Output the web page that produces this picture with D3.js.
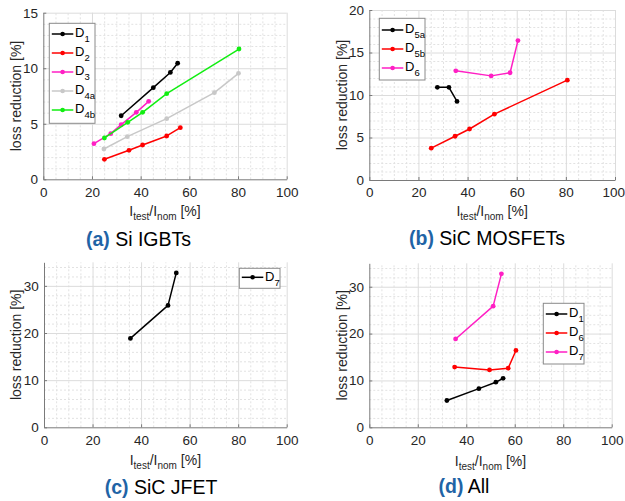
<!DOCTYPE html>
<html><head><meta charset="utf-8">
<script src="https://cdn.jsdelivr.net/npm/d3@7"></script>
<style>
body{margin:0;background:#fff}
svg{display:block}
text{font-family:"Liberation Sans",Arial,Helvetica,sans-serif}
</style>
</head><body>
<svg id="chart" width="625" height="501"></svg>
<script>
// ---------- data ----------
const xTicks = [0, 20, 40, 60, 80, 100];
const yTicksA = [0, 5, 10, 15];
const yTicksB = [0, 5, 10, 15, 20];
const yTicksCD = [0, 10, 20, 30];

const D1  = [[32.0, 5.72], [45.2, 8.25], [52.2, 9.62], [55.2, 10.45]];
const D2  = [[25.1, 1.80], [35.2, 2.61], [40.8, 3.09], [50.7, 3.90], [56.3, 4.65]];
const D3  = [[20.8, 3.21], [27.7, 4.11], [32.0, 4.92], [38.2, 6.03], [43.3, 7.02]];
const D4a = [[24.9, 2.73], [34.5, 3.84], [50.7, 5.46], [70.3, 7.80], [80.2, 9.54]];
const D4b = [[25.1, 3.72], [34.7, 5.13], [40.8, 6.03], [50.7, 7.71], [80.4, 11.73]];
const D5a = [[27.7, 10.9], [32.4, 10.9], [35.7, 9.25]];
const D5b = [[25.2, 3.75], [34.9, 5.15], [40.8, 6.0], [50.9, 7.75], [80.6, 11.75]];
const D6  = [[35.2, 12.85], [49.6, 12.25], [57.3, 12.62], [60.5, 16.4]];
const D7  = [[35.6, 18.85], [51.1, 25.85], [54.5, 32.75]];

const captions = [["(a)", " Si IGBTs"], ["(b)", " SiC MOSFETs"], ["(c)", " SiC JFET"], ["(d)", " All"]];

const C = {black:"#000000", red:"#ff0000", pink:"#ff1fc4", grey:"#c8c8c8", green:"#11ee11"};

// ---------- layout ----------
const panels = [
  {x0:43.3, x1:286.7, yb:179.3, yt:12.7, ymax:15, yTicks:yTicksA, yMinor:1,
   series:[{d:D1,n:"1",c:C.black},{d:D2,n:"2",c:C.red},{d:D3,n:"3",c:C.pink},{d:D4a,n:"4a",c:C.grey},{d:D4b,n:"4b",c:C.green}],
   leg:{x:49.3, y:23.3, w:45.7, h:100, r0:34, step:19},
   ylabX:20.5, xlabY:216, cap:captions[0], capX:138.5, capY:245.5},
  {x0:369.3, x1:615, yb:180, yt:10, ymax:20, yTicks:yTicksB, yMinor:1,
   series:[{d:D5a,n:"5a",c:C.black},{d:D5b,n:"5b",c:C.red},{d:D6,n:"6",c:C.pink}],
   leg:{x:379.3, y:18.3, w:45.7, h:61.7, r0:30, step:19},
   ylabX:347, xlabY:216, cap:captions[1], capX:487, capY:245},
  {x0:44, x1:286.7, yb:427.3, yt:262.3, ymax:35, yTicks:yTicksCD, yMinor:2,
   series:[{d:D7,n:"7",c:C.black}],
   leg:{x:239.3, y:268.3, w:40.7, h:20, r0:277.3, step:19},
   ylabX:20.5, xlabY:465, cap:captions[2], capX:161, capY:494},
  {x0:369.3, x1:611.7, yb:427.3, yt:263.3, ymax:35, yTicks:yTicksCD, yMinor:2,
   series:[{d:D1,n:"1",c:C.black},{d:D6,n:"6",c:C.red},{d:D7,n:"7",c:C.pink}],
   leg:{x:543.3, y:303.3, w:40.7, h:60.7, r0:314, step:19},
   ylabX:347, xlabY:466, cap:captions[3], capX:464, capY:492.5}
];

const svg = d3.select("#chart");
const SVG_W = 625;

function range(a, b, s){ const r=[]; for(let v=a; v<=b+1e-9; v+=s) r.push(+v.toFixed(6)); return r; }

panels.forEach(p => {
  const x = d3.scaleLinear().domain([0,100]).range([p.x0, p.x1]);
  const y = d3.scaleLinear().domain([0,p.ymax]).range([p.yb, p.yt]);
  const g = svg.append("g");
  const H = p.yb - p.yt, W = p.x1 - p.x0;

  const minorX = range(0,100,5).filter(v => !xTicks.includes(v) && v>0);
  const minorY = range(0,p.ymax,p.yMinor).filter(v => !p.yTicks.includes(v) && v>0);

  // minor grid
  g.append("g").attr("transform",`translate(0,${p.yb})`)
    .call(d3.axisBottom(x).tickValues(minorX).tickSize(-H).tickFormat(""))
    .call(a => { a.select(".domain").remove(); a.selectAll("line").attr("stroke","#e2e2e2").attr("stroke-dasharray","2,2"); });
  g.append("g").attr("transform",`translate(${p.x0},0)`)
    .call(d3.axisLeft(y).tickValues(minorY).tickSize(-W).tickFormat(""))
    .call(a => { a.select(".domain").remove(); a.selectAll("line").attr("stroke","#e2e2e2").attr("stroke-dasharray","2,2"); });
  // major grid
  g.append("g").attr("transform",`translate(0,${p.yb})`)
    .call(d3.axisBottom(x).tickValues(xTicks.filter(v=>v>0)).tickSize(-H).tickFormat(""))
    .call(a => { a.select(".domain").remove(); a.selectAll("line").attr("stroke","#dcdcdc"); });
  g.append("g").attr("transform",`translate(${p.x0},0)`)
    .call(d3.axisLeft(y).tickValues(p.yTicks.filter(v=>v>0)).tickSize(-W).tickFormat(""))
    .call(a => { a.select(".domain").remove(); a.selectAll("line").attr("stroke","#dcdcdc"); });

  // axes
  const styleAxis = a => {
    a.attr("font-family",null).attr("font-size",null);
    a.select(".domain").attr("stroke","#7a7a7a");
    a.selectAll(".tick line").attr("stroke","#7a7a7a");
    a.selectAll(".tick text").attr("fill","#262626").style("font-size","13.5px");
  };
  g.append("g").attr("transform",`translate(0,${p.yb})`)
    .call(d3.axisBottom(x).tickValues(xTicks).tickSizeInner(-3).tickSizeOuter(0).tickPadding(7.8))
    .call(styleAxis)
    .call(a => a.selectAll(".tick text").each(function(v){
      // keep labels fully inside the picture
      const bb = this.getBBox();
      const right = x(v) + bb.width/2;
      if (right > SVG_W - 0.5) d3.select(this).attr("dx", (SVG_W - 0.5 - right).toFixed(1));
    }));
  g.append("g").attr("transform",`translate(${p.x0},0)`)
    .call(d3.axisLeft(y).tickValues(p.yTicks).tickSizeInner(-3).tickSizeOuter(0).tickPadding(5.2))
    .call(styleAxis);

  // series
  const line = d3.line().x(d=>x(d[0])).y(d=>y(d[1]));
  p.series.forEach(s => {
    g.append("path").datum(s.d).attr("d",line).attr("fill","none")
      .attr("stroke",s.c).attr("stroke-width",1.5).attr("stroke-linejoin","round");
    g.selectAll(null).data(s.d).enter().append("circle")
      .attr("cx",d=>x(d[0])).attr("cy",d=>y(d[1])).attr("r",2.4).attr("fill",s.c);
  });

  // legend
  const L = p.leg;
  const lg = g.append("g");
  lg.append("rect").attr("x",L.x).attr("y",L.y).attr("width",L.w).attr("height",L.h)
    .attr("fill","#fff").attr("stroke","#8a8a8a").attr("stroke-width",1);
  p.series.forEach((s,i) => {
    const yy = L.r0 + i*L.step;
    lg.append("line").attr("x1",L.x+2.5).attr("x2",L.x+24).attr("y1",yy).attr("y2",yy)
      .attr("stroke",s.c).attr("stroke-width",1.5);
    lg.append("circle").attr("cx",L.x+13.3).attr("cy",yy).attr("r",2.3).attr("fill",s.c);
    const t = lg.append("text").attr("x",L.x+25.7).attr("y",yy+3.4).attr("fill","#000");
    t.append("tspan").style("font-size","13px").text("D");
    t.append("tspan").style("font-size","9.5px").attr("dy",5).text(s.n);
  });

  // axis labels
  g.append("text").attr("transform",`translate(${p.ylabX},${(p.yb+p.yt)/2}) rotate(-90)`)
    .attr("text-anchor","middle").attr("fill","#262626").style("font-size","14px")
    .text("loss reduction [%]");
  const xl = g.append("text").attr("x",(p.x0+p.x1)/2).attr("y",p.xlabY)
    .attr("text-anchor","middle").attr("fill","#262626").style("font-size","14px");
  xl.append("tspan").text("I");
  xl.append("tspan").style("font-size","10px").attr("dy",4).text("test");
  xl.append("tspan").attr("dy",-4).text("/I");
  xl.append("tspan").style("font-size","10px").attr("dy",4).text("nom");
  xl.append("tspan").attr("dy",-4).text(" [%]");

  // caption
  const ct = g.append("text").attr("x",p.capX).attr("y",p.capY).attr("text-anchor","middle")
    .style("font-size","19.5px");
  ct.append("tspan").attr("font-weight","bold").attr("fill","#1f64a6").text(p.cap[0]);
  ct.append("tspan").attr("fill","#000").text(p.cap[1]);
});
</script>
</body></html>
